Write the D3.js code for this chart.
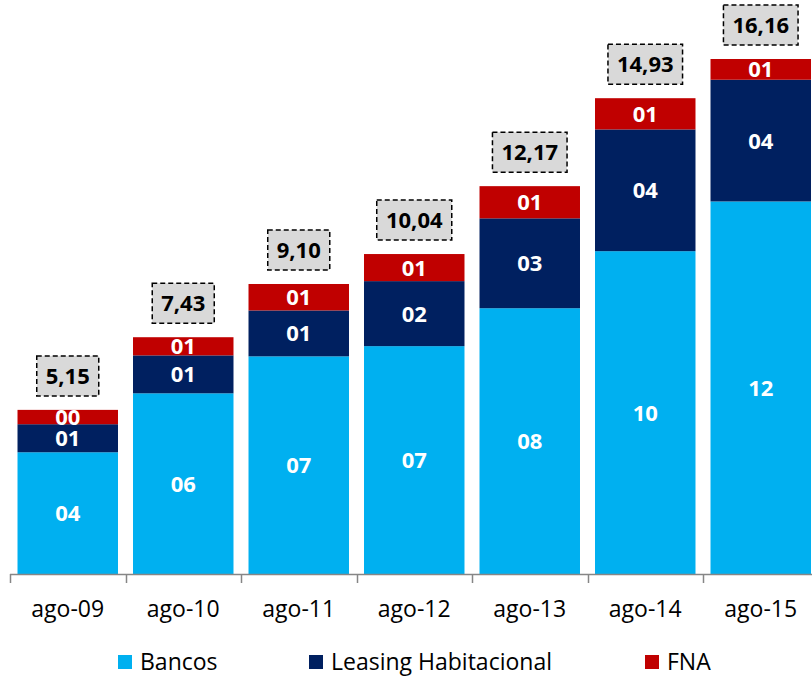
<!DOCTYPE html>
<html>
<head>
<meta charset="utf-8">
<script src="https://d3js.org/d3.v7.min.js"></script>
<style>
  body { margin: 0; background: #fff; }
  text { font-family: "Open Sans", "Noto Sans", sans-serif; }
</style>
</head>
<body>
<div class="chart"></div>
<script>
var categories = ["ago-09", "ago-10", "ago-11", "ago-12", "ago-13", "ago-14", "ago-15"];
var bancos   = [3.82, 5.67, 6.83, 7.15, 8.34, 10.13, 11.69];
var leasing  = [0.88, 1.19, 1.44, 2.04, 2.82, 3.82, 3.82];
var fna      = [0.45, 0.57, 0.83, 0.85, 1.01, 0.98, 0.65];
var totals   = ["5,15", "7,43", "9,10", "10,04", "12,17", "14,93", "16,16"];
var seriesNames = ["Bancos", "Leasing Habitacional", "FNA"];
var colors = ["#00B0F0", "#002060", "#C00000"];

var width = 812, height = 678;
var baseline = 574;

var svg = d3.select(".chart")
    .append("svg")
    .attr("width", width)
    .attr("height", height);

// build rows for stacking
var rows = categories.map(function(c, i) {
    return { cat: c, "Bancos": bancos[i], "Leasing Habitacional": leasing[i], "FNA": fna[i], total: totals[i] };
});

var x = d3.scaleBand()
    .domain(categories)
    .range([10, 818.5])
    .paddingInner(0.13)
    .paddingOuter(0.065);

var y = d3.scaleLinear()
    .domain([0, 16.16])
    .range([baseline, 59]);

var stack = d3.stack().keys(seriesNames);
var layers = stack(rows);

var layer = svg.selectAll(".layer")
    .data(layers)
    .enter()
    .append("g")
    .attr("class", "layer")
    .attr("fill", function(d, i) { return colors[i]; });

layer.selectAll("rect")
    .data(function(d) { return d; })
    .enter()
    .append("rect")
    .attr("x", function(d) { return x(d.data.cat); })
    .attr("width", x.bandwidth())
    .attr("y", function(d) { return y(d[1]); })
    .attr("height", function(d) { return y(d[0]) - y(d[1]); });

// segment labels
layer.selectAll("text")
    .data(function(d) { return d; })
    .enter()
    .append("text")
    .attr("x", function(d) { return x(d.data.cat) + x.bandwidth() / 2; })
    .attr("y", function(d) { return (y(d[0]) + y(d[1])) / 2; })
    .attr("dy", "0.36em")
    .attr("text-anchor", "middle")
    .attr("fill", "#fff")
    .style("font-weight", "bold")
    .style("font-size", "22px")
    .text(function(d) {
        var v = Math.round(d[1] - d[0]);
        return (v < 10 ? "0" : "") + v;
    });

// total boxes
var tot = svg.selectAll(".total")
    .data(rows)
    .enter()
    .append("g")
    .attr("class", "total")
    .attr("transform", function(d, i) {
        var top = y(bancos[i] + leasing[i] + fna[i]);
        return "translate(" + (x(d.cat) + x.bandwidth() / 2) + "," + (top - 34) + ")";
    });

tot.append("text")
    .attr("text-anchor", "middle")
    .attr("dy", "0.36em")
    .style("font-weight", "bold")
    .style("font-size", "22px")
    .attr("fill", "#000")
    .text(function(d) { return d.total; });

tot.each(function() {
    var g = d3.select(this);
    var bb = g.select("text").node().getBBox();
    g.insert("rect", "text")
        .attr("x", -bb.width / 2 - 9)
        .attr("y", -20)
        .attr("width", bb.width + 18)
        .attr("height", 40)
        .attr("fill", "#D9D9D9")
        .attr("stroke", "#000")
        .attr("stroke-width", 1.5)
        .attr("stroke-dasharray", "5,3");
});

// x axis
var axis = svg.append("g")
    .attr("transform", "translate(0," + baseline + ")");

axis.append("line")
    .attr("x1", 10).attr("x2", 812)
    .attr("y1", 0.5).attr("y2", 0.5)
    .attr("stroke", "#868686")
    .attr("stroke-width", 1.5);

var step = x.step();
var tickPos = d3.range(categories.length).map(function(i) { return 10 + i * step; });
axis.selectAll(".tick")
    .data(tickPos)
    .enter()
    .append("line")
    .attr("x1", function(d) { return Math.round(d) + 0.5; })
    .attr("x2", function(d) { return Math.round(d) + 0.5; })
    .attr("y1", 0).attr("y2", 9)
    .attr("stroke", "#868686")
    .attr("stroke-width", 1.5);

axis.selectAll(".lbl")
    .data(categories)
    .enter()
    .append("text")
    .attr("x", function(d) { return x(d) + x.bandwidth() / 2; })
    .attr("y", 43)
    .attr("text-anchor", "middle")
    .style("font-size", "23px")
    .attr("fill", "#000")
    .text(function(d) { return d; });

// legend
var legendX = [118, 309, 645];
var legend = svg.selectAll(".legend")
    .data(seriesNames)
    .enter()
    .append("g")
    .attr("class", "legend")
    .attr("transform", function(d, i) { return "translate(" + legendX[i] + ",655)"; });

legend.append("rect")
    .attr("width", 14)
    .attr("height", 14)
    .attr("fill", function(d, i) { return colors[i]; });

legend.append("text")
    .attr("x", 22)
    .attr("y", 15)
    .style("font-size", "23px")
    .attr("fill", "#000")
    .text(function(d) { return d; });
</script>
</body>
</html>
